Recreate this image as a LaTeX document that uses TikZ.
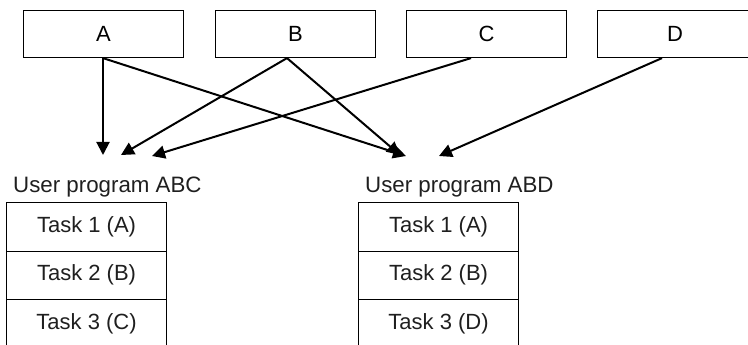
\documentclass[tikz,border=0pt]{standalone}
\usepackage{fontspec}
\setmainfont{Liberation Sans}
\usetikzlibrary{arrows.meta}
\begin{document}
\begin{tikzpicture}[x=1pt,y=-1pt,
  topbox/.style={draw, line width=1.1pt, minimum width=160pt, minimum height=47pt, inner sep=0pt, anchor=north west, font=\fontsize{22}{26}\selectfont},
  taskbox/.style={draw, line width=1.1pt, minimum width=160pt, minimum height=48.5pt, inner sep=0pt, anchor=north west, font=\fontsize{22}{26}\selectfont, text=black!88},
  lbl/.style={inner sep=0pt, anchor=west, font=\fontsize{22.3}{26}\selectfont, text=black!88},
  arr/.style={line width=2pt, -{Triangle[length=13pt,width=13pt]}}]
\useasboundingbox (0,0) rectangle (748,345);
\clip (0,0) rectangle (748,345);
\node[topbox] (A) at (23,10) {A};
\node[topbox] (B) at (215,10) {B};
\node[topbox] (C) at (406,10) {C};
\node[topbox, minimum width=155pt] (D) at (597,10) {D};
\coordinate (a1) at (103,155);
\coordinate (b1) at (121,155);
\coordinate (c1) at (152,156);
\coordinate (a2) at (406,156);
\coordinate (b2) at (400,155);
\coordinate (d2) at (439,156);
\draw[arr] (A.south -| 103,0) -- (a1);
\draw[arr] (A.south -| 103,0) -- (a2);
\draw[arr] (B.south -| 287,0) -- (b1);
\draw[arr] (B.south -| 287,0) -- (b2);
\draw[arr] (C.south -| 471,0) -- (c1);
\draw[arr] (D.south -| 662,0) -- (d2);
\node[lbl] (L1) at (13,187) {User program ABC};
\node[lbl] (L2) at (365,187) {User program ABD};
\node[taskbox] (t11) at (6,202) {Task 1 (A)};
\node[taskbox] (t12) at (6,250.5) {Task 2 (B)};
\node[taskbox] (t13) at (6,299) {Task 3 (C)};
\node[taskbox] (t21) at (358,202) {Task 1 (A)};
\node[taskbox] (t22) at (358,250.5) {Task 2 (B)};
\node[taskbox] (t23) at (358,299) {Task 3 (D)};
\end{tikzpicture}
\end{document}
